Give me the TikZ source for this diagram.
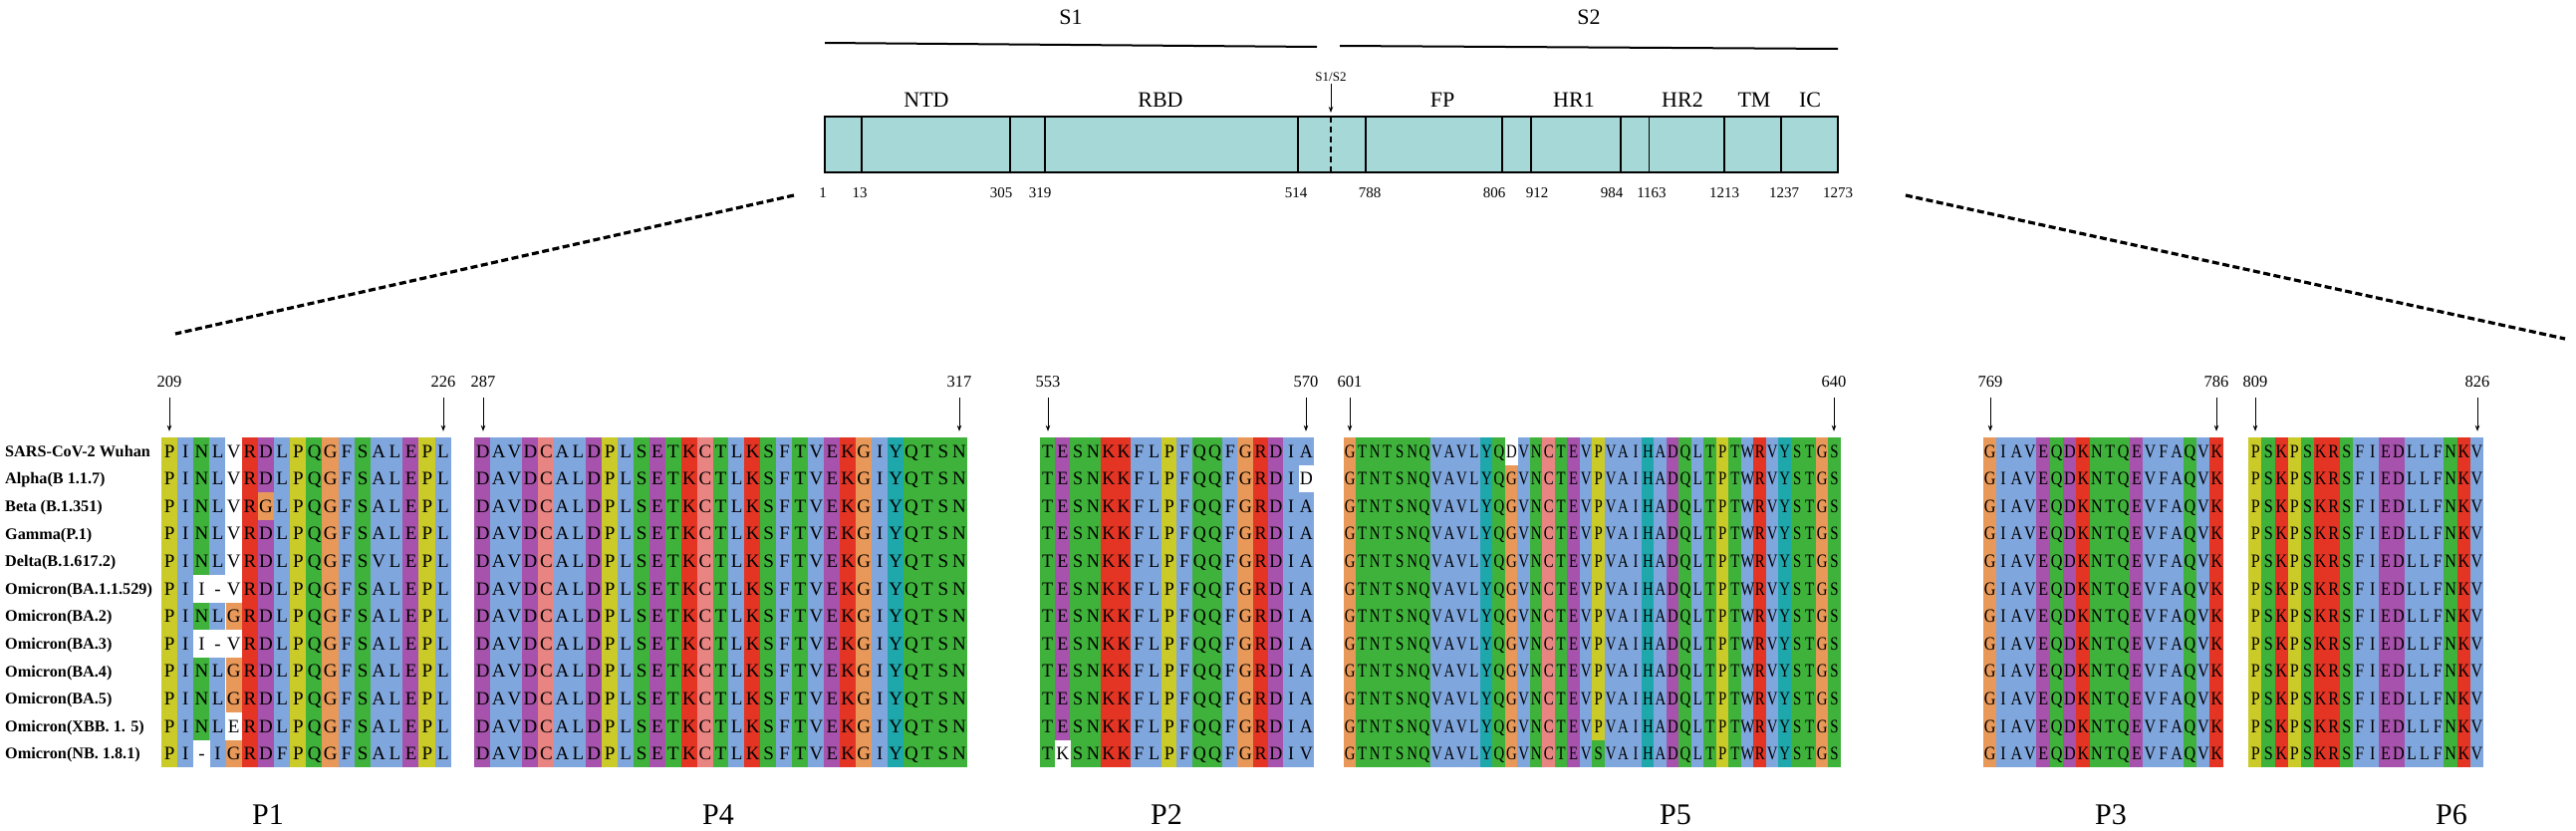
\documentclass[tikz,border=0pt]{standalone}
\usepackage{graphicx}
\usepackage{fontspec}
\setmainfont{Liberation Serif}
\usetikzlibrary{arrows.meta}

\definecolor{aaB}{RGB}{128,166,222}
\definecolor{aaR}{RGB}{228,52,36}
\definecolor{aaG}{RGB}{62,178,58}
\definecolor{aaM}{RGB}{167,82,172}
\definecolor{aaK}{RGB}{232,132,130}
\definecolor{aaO}{RGB}{232,152,88}
\definecolor{aaY}{RGB}{202,202,40}
\definecolor{aaC}{RGB}{30,168,172}
\definecolor{bartint}{RGB}{166,216,216}

% residues that differ from the column
\newcommand\setres[5]{%
  \expandafter\def\csname resl-#1-#2-#3\endcsname{#4}%
  \expandafter\def\csname resc-#1-#2-#3\endcsname{#5}}
\setres{p1}{3}{7}{G}{aaO}
\setres{p1}{5}{14}{V}{aaB}
\setres{p1}{6}{3}{I}{white}
\setres{p1}{6}{4}{-}{white}
\setres{p1}{7}{5}{G}{aaO}
\setres{p1}{8}{3}{I}{white}
\setres{p1}{8}{4}{-}{white}
\setres{p1}{9}{5}{G}{aaO}
\setres{p1}{10}{5}{G}{aaO}
\setres{p1}{11}{5}{E}{white}
\setres{p1}{12}{3}{-}{white}
\setres{p1}{12}{4}{I}{aaB}
\setres{p1}{12}{5}{G}{aaO}
\setres{p1}{12}{8}{F}{aaB}
\setres{p2}{2}{18}{D}{white}
\setres{p2}{12}{2}{K}{white}
\setres{p2}{12}{18}{V}{aaB}
\setres{p5}{1}{14}{D}{white}
\setres{p5}{12}{21}{S}{aaG}

% #1 name, #2 left edge, #3 column width, #4 letter squeeze, #5 columns
\newcommand\seqblock[5]{%
  \foreach \aa/\cc [count=\cn] in {#5}{
    \fill[fill=\cc] ({#2+(\cn-1)*#3-0.3},439) rectangle ({#2+\cn*#3+0.3},770);
  }
  \foreach \aa/\cc [count=\cn] in {#5}{
    \foreach \rw in {1,...,12}{
      \edef\thisres{\aa}
      \ifcsname resl-#1-\rw-\cn\endcsname
        \edef\thisres{\csname resl-#1-\rw-\cn\endcsname}
        \edef\thisbg{\csname resc-#1-\rw-\cn\endcsname}
        \fill[fill=\thisbg] ({#2+(\cn-1)*#3},{439+(\rw-1)*27.6}) rectangle ++(#3,27.6);
      \fi
      \node[res] (#1-\rw-\cn) at ({#2+(\cn-0.5)*#3},{439+(\rw-0.5)*27.6}) {\scalebox{#4}[1]{\thisres}};
    }
  }
}

\tikzset{
  res/.style={inner sep=0pt, text height=12.6pt, text depth=0pt, font=\fontsize{19}{19}\selectfont},
  strain/.style={anchor=west, inner sep=0pt, text height=10.8pt, text depth=0pt, font=\fontsize{16.2}{16.2}\selectfont\bfseries},
  posnum/.style={inner sep=0pt, text height=11.2pt, text depth=0pt, font=\fontsize{16.5}{16.5}\selectfont},
  posarr/.style={-{Stealth[length=6pt,width=4.5pt]}, line width=0.8pt},
  dom/.style={inner sep=0pt, text height=14.6pt, text depth=0pt, font=\fontsize{22}{22}\selectfont},
  aanum/.style={inner sep=0pt, text height=10.2pt, text depth=0pt, font=\fontsize{15}{15}\selectfont},
  peplab/.style={inner sep=0pt, text height=19.8pt, text depth=0pt, font=\fontsize{30}{30}\selectfont},
  divider/.style={line width=1.3pt},
  zoomline/.style={line width=3.2pt, dash pattern=on 7pt off 3.5pt}
}

\begin{document}
\begin{tikzpicture}[x=1pt,y=-1pt]
\useasboundingbox (0,0) rectangle (2586,833);

% S1 and S2 subunits
\coordinate (s1l) at (828,43);
\coordinate (s1r) at (1322,47);
\coordinate (s2l) at (1345,46);
\coordinate (s2r) at (1845,49);
\draw[line width=2pt] (s1l) -- (s1r);
\draw[line width=2pt] (s2l) -- (s2r);
\node[dom] (s1) at (1075,17) {S1};
\node[dom] (s2) at (1595,17) {S2};

% domain bar
\fill[bartint] (828,117) rectangle (1845,173);
\foreach \x in {865,1014,1049,1303,1371,1508,1537,1627,1655.5,1731,1788}
  \draw[divider] (\x,117) -- (\x,173);
\draw[divider,dash pattern=on 6pt off 4pt] (1336,117) -- (1336,173);
\draw[line width=2pt] (828,117) rectangle (1845,173);

\node[dom] (ntd) at (930,100) {NTD};
\node[dom] (rbd) at (1165,100) {RBD};
\node[dom] (fp) at (1448,100) {FP};
\node[dom] (hr1) at (1580,100) {HR1};
\node[dom] (hr2) at (1689,100) {HR2};
\node[dom] (tm) at (1761,100) {TM};
\node[dom] (ic) at (1817,100) {IC};

\node[inner sep=0pt, font=\fontsize{13}{13}\selectfont] (s1s2) at (1336,77) {S1/S2};
\coordinate (bartop) at (1336,113);
\draw[posarr, shorten <=2pt] (s1s2.south) -- (bartop);

\foreach \x/\num in {826/1, 863/13, 1005/305, 1044/319, 1301/514, 1375/788, 1500/806,
    1543/912, 1618/984, 1658/1163, 1731/1213, 1791/1237, 1845/1273}
  \node[aanum] (aa\num) at (\x,193) {\num};

% zoom lines
\coordinate (zl1) at (797,196);
\coordinate (zl2) at (176,335);
\coordinate (zr1) at (1913,196);
\coordinate (zr2) at (2575,340);
\draw[zoomline] (zl1) -- (zl2);
\draw[zoomline] (zr1) -- (zr2);

% strains
\foreach \lab [count=\rw] in {SARS-CoV-2 Wuhan, Alpha(B 1.1.7), Beta (B.1.351), Gamma(P.1),
    Delta(B.1.617.2), Omicron(BA.1.1.529), Omicron(BA.2), Omicron(BA.3), Omicron(BA.4),
    Omicron(BA.5), Omicron(XBB. 1. 5), Omicron(NB. 1.8.1)}
  \node[strain] (lab\rw) at (5,{439+(\rw-0.5)*27.6}) {\lab};

% alignments
\seqblock{p1}{162}{16.17}{1}{P/aaY,I/aaB,N/aaG,L/aaB,V/white,R/aaR,D/aaM,L/aaB,P/aaY,Q/aaG,G/aaO,F/aaB,S/aaG,A/aaB,L/aaB,E/aaM,P/aaY,L/aaB}
\seqblock{p4}{476.7}{15.94}{1}{D/aaM,A/aaB,V/aaB,D/aaM,C/aaK,A/aaB,L/aaB,D/aaM,P/aaY,L/aaB,S/aaG,E/aaM,T/aaG,K/aaR,C/aaK,T/aaG,L/aaB,K/aaR,S/aaG,F/aaB,T/aaG,V/aaB,E/aaM,K/aaR,G/aaO,I/aaB,Y/aaC,Q/aaG,T/aaG,S/aaG,N/aaG}
\seqblock{p2}{1044}{15.28}{0.95}{T/aaG,E/aaM,S/aaG,N/aaG,K/aaR,K/aaR,F/aaB,L/aaB,P/aaY,F/aaB,Q/aaG,Q/aaG,F/aaB,G/aaO,R/aaR,D/aaM,I/aaB,A/aaB}
\seqblock{p5}{1349}{12.47}{0.78}{G/aaO,T/aaG,N/aaG,T/aaG,S/aaG,N/aaG,Q/aaG,V/aaB,A/aaB,V/aaB,L/aaB,Y/aaC,Q/aaG,G/aaO,V/aaB,N/aaG,C/aaK,T/aaG,E/aaM,V/aaB,P/aaY,V/aaB,A/aaB,I/aaB,H/aaC,A/aaB,D/aaM,Q/aaG,L/aaB,T/aaG,P/aaY,T/aaG,W/aaB,R/aaR,V/aaB,Y/aaC,S/aaG,T/aaG,G/aaO,S/aaG}
\seqblock{p3}{1991}{13.39}{0.85}{G/aaO,I/aaB,A/aaB,V/aaB,E/aaM,Q/aaG,D/aaM,K/aaR,N/aaG,T/aaG,Q/aaG,E/aaM,V/aaB,F/aaB,A/aaB,Q/aaG,V/aaB,K/aaR}
\seqblock{p6}{2257.7}{13.07}{0.85}{P/aaY,S/aaG,K/aaR,P/aaY,S/aaG,K/aaR,R/aaR,S/aaG,F/aaB,I/aaB,E/aaM,D/aaM,L/aaB,L/aaB,F/aaB,N/aaG,K/aaR,V/aaB}

% positions
\foreach \x/\num in {170/209, 445/226, 485/287, 963/317, 1052/553, 1311/570,
    1355/601, 1841/640, 1998/769, 2225/786, 2264/809, 2487/826}{
  \node[posnum] (n\num) at (\x,383) {\num};
  \draw[posarr] ([yshift=-10pt]n\num.south) -- ++(0,34);
}

% peptides
\foreach \x/\p in {269/P1, 721/P4, 1171/P2, 1682/P5, 2119/P3, 2461/P6}
  \node[peplab] (\p) at (\x,818) {\p};
\end{tikzpicture}
\end{document}
